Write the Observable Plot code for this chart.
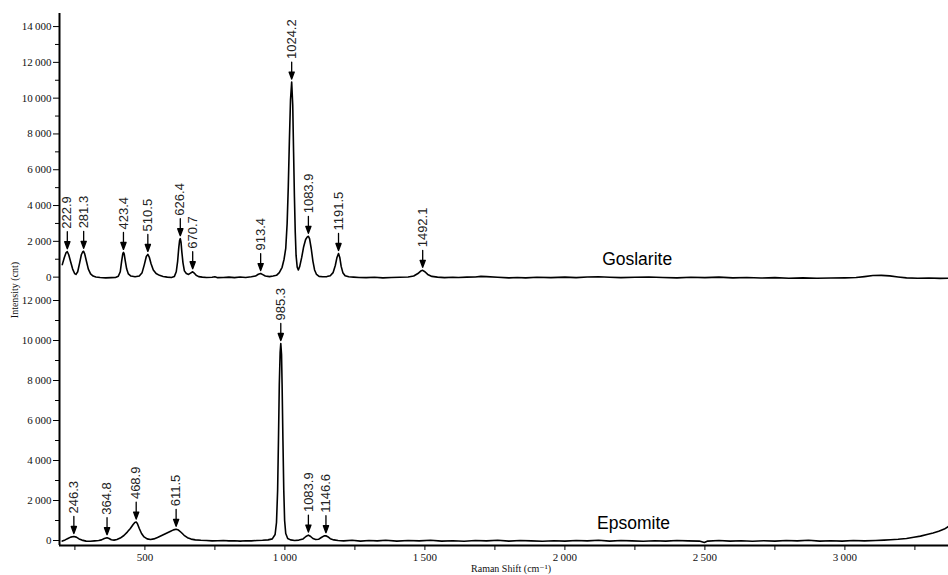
<!DOCTYPE html>
<html>
<head>
<meta charset="utf-8">
<script src="https://cdn.jsdelivr.net/npm/d3@7"></script>
<script src="https://cdn.jsdelivr.net/npm/@observablehq/plot@0.6"></script>
<style>
  body { margin: 0; background: #fff; }
  #chart { position: relative; width: 948px; height: 575px; overflow: hidden; }
  #chart svg { display: block; }
  #ylabel { position: absolute; left: 14px; top: 290px; transform: translate(-50%, -50%) rotate(-90deg);
            font: 10px "Liberation Serif", "DejaVu Serif", serif; white-space: nowrap; color: #111; }
</style>
</head>
<body>
<div id="chart"><div id="ylabel">Intensity (cnt)</div></div>
<script>
// ---------------- data ----------------
const xDomain = [195, 3370];
const xMajorTicks = [500, 1000, 1500, 2000, 2500, 3000];
const xMinorTicks = [250, 750, 1250, 1750, 2250, 2750, 3250];
const goslariteYTicks = [0, 2000, 4000, 6000, 8000, 10000, 12000, 14000];
const goslariteYMinor = [1000, 3000, 5000, 7000, 9000, 11000, 13000];
const epsomiteYTicks = [0, 2000, 4000, 6000, 8000, 10000, 12000];
const epsomiteYMinor = [1000, 3000, 5000, 7000, 9000, 11000];

// Goslarite spectrum [Raman shift, intensity]
const goslariteSpectrum = [
  [205,700],[212,1080],[218,1350],[223,1420],[228,1250],[235,850],[242,450],[249,200],[254,150],
  [260,300],[267,800],[273,1250],[278,1420],[281,1440],[285,1300],[291,900],[298,450],[306,180],
  [315,60],[325,10],[340,-20],[360,-40],[380,-30],[395,-20],[405,50],[412,300],[417,900],[421,1300],
  [423.4,1380],[426,1300],[430,900],[435,450],[441,180],[450,60],[465,20],[480,60],[490,250],[498,700],
  [505,1150],[510.5,1270],[516,1100],[522,750],[530,400],[540,200],[552,100],[565,40],[580,0],[595,-20],
  [605,30],[612,300],[617,900],[621,1650],[624,2050],[626.4,2150],[629,1950],[632,1400],[636,800],
  [641,350],[648,200],[656,150],[663,220],[670.7,300],[676,230],[683,100],[692,30],[705,0],[720,-20],
  [740,-10],[750,20],[760,-30],[780,-20],[800,0],[820,-30],[840,10],[860,-20],[880,20],[895,60],
  [905,160],[913.4,200],[921,140],[930,60],[945,30],[958,60],[970,100],[980,250],[990,550],[997,1000],
  [1003,1600],[1008,3000],[1012,5000],[1016,7600],[1020,9900],[1024.2,10900],[1028,9600],[1031,7000],
  [1034,4500],[1037,2500],[1040,1200],[1044,550],[1048,400],[1053,600],[1060,1100],[1067,1700],
  [1074,2100],[1080,2250],[1083.9,2280],[1088,2150],[1094,1600],[1100,900],[1106,400],[1113,150],
  [1122,40],[1135,20],[1150,30],[1162,80],[1172,250],[1180,650],[1186,1100],[1191.5,1320],[1196,1100],
  [1201,600],[1207,250],[1215,80],[1228,20],[1245,0],[1265,-20],[1290,-30],[1320,-10],[1350,-40],
  [1380,-20],[1410,-10],[1440,10],[1460,60],[1475,200],[1485,340],[1492,380],[1500,300],[1510,150],
  [1525,40],[1545,0],[1570,-30],[1600,-10],[1620,-20],[1650,0],[1680,10],[1700,40],[1720,30],
  [1760,-10],[1800,-40],[1830,-20],[1860,-40],[1900,-10],[1950,-30],[2000,0],[2040,-30],[2080,10],
  [2120,20],[2160,-10],[2200,-30],[2250,-10],[2300,10],[2350,-20],[2400,-40],[2450,-10],[2500,-30],
  [2550,0],[2600,-40],[2650,-20],[2700,-50],[2750,-30],[2800,-60],[2850,-40],[2900,-60],[2950,-50],
  [3000,-40],[3040,-20],[3070,30],[3100,90],[3130,100],[3160,70],[3190,10],[3220,-40],[3260,-60],
  [3300,-50],[3340,-70],[3370,-60]
];

// Epsomite spectrum [Raman shift, intensity]
const epsomiteSpectrum = [
  [205,-30],[215,30],[225,100],[235,170],[246.3,200],[255,170],[265,80],[275,20],[290,-30],[305,-40],
  [320,-20],[335,0],[345,30],[355,100],[364.8,140],[372,100],[380,40],[390,20],[400,50],[412,120],
  [425,250],[437,420],[448,600],[458,800],[464,900],[468.9,920],[473,850],[480,600],[488,350],[497,180],
  [508,80],[520,50],[532,80],[545,150],[560,250],[575,350],[590,450],[602,530],[611.5,560],[620,520],
  [630,400],[640,260],[652,140],[665,70],[680,30],[700,10],[720,0],[740,-20],[760,-10],[780,0],
  [800,-20],[820,-10],[840,-30],[860,-10],[880,-20],[900,0],[920,10],[940,30],[955,80],[965,300],
  [970,900],[974,2500],[977,5000],[980,7800],[983,9400],[985.3,9850],[988,9300],[990,7800],[993,5000],
  [996,2500],[999,1000],[1003,350],[1010,100],[1020,30],[1035,0],[1050,20],[1065,80],[1075,200],
  [1083.9,270],[1092,200],[1100,100],[1110,50],[1120,60],[1130,150],[1140,230],[1146.6,240],[1153,190],
  [1162,90],[1175,30],[1190,0],[1210,-20],[1240,10],[1270,-30],[1300,0],[1330,-20],[1360,10],
  [1400,-30],[1440,0],[1480,-20],[1520,10],[1560,-30],[1600,-10],[1640,-40],[1680,0],[1720,-20],
  [1760,10],[1800,-30],[1840,0],[1880,-20],[1920,-40],[1960,-10],[2000,-30],[2040,0],[2080,-20],
  [2120,10],[2160,-30],[2200,0],[2240,-20],[2280,-40],[2320,-10],[2360,-30],[2400,0],[2440,-20],
  [2480,-30],[2498,-100],[2510,-30],[2550,0],[2590,-30],[2630,-10],[2670,-40],[2710,-10],[2750,-30],
  [2790,0],[2830,-20],[2870,10],[2910,-30],[2950,-10],[2990,-30],[3030,0],[3070,-20],[3110,0],
  [3140,20],[3163,35],[3190,60],[3220,100],[3246,165],[3270,220],[3293,300],[3315,380],[3335,460],
  [3355,570],[3370,700]
];

// peak annotations
const goslaritePeakLabels = ["222.9","281.3","423.4","510.5","626.4","670.7","913.4","1024.2","1083.9","1191.5","1492.1"];
const goslaritePeakShift  = [222.9, 281.3, 423.4, 510.5, 626.4, 670.7, 913.4, 1024.2, 1083.9, 1191.5, 1492.1];
const goslaritePeakHeight = [1420, 1440, 1380, 1270, 2150, 300, 200, 10900, 2280, 1320, 380];

const epsomitePeakLabels = ["246.3","364.8","468.9","611.5","985.3","1083.9","1146.6"];
const epsomitePeakShift  = [246.3, 364.8, 468.9, 611.5, 985.3, 1083.9, 1146.6];
const epsomitePeakHeight = [200, 140, 920, 560, 9850, 270, 240];

// series names
const goslariteName = [{name: "Goslarite", shift: 2133, intensity: 655}];
const epsomiteName  = [{name: "Epsomite",  shift: 2115, intensity: 585}];

const xTitle = ["Raman Shift (cm\u207B\u00B9)"];

// ---------------- helpers ----------------
const serif = "Liberation Serif, DejaVu Serif, serif";
const sans = "Liberation Sans, Arial, sans-serif";
const locale = d3.formatLocale({decimal: ".", thousands: "\u2009", grouping: [3], currency: ["", ""]});
const fmt = locale.format(",");

function peaks(labels, shifts, heights) {
  return labels.map((l, i) => ({label: l, shift: shifts[i], height: heights[i]}));
}

const arrowShape = {
  draw(context, l) {
    context.moveTo(0, 0);
    context.lineTo(0, -l + 5);
    context.moveTo(0, -l);
    context.lineTo(-2.6, -l + 7);
    context.lineTo(2.6, -l + 7);
    context.closePath();
  }
};

function peakMarks(pk) {
  return [
    Plot.vector(pk, {x: "shift", y: "height", rotate: 180, length: 17, anchor: "end", shape: arrowShape,
      stroke: "black", fill: "black", strokeWidth: 1.3, dy: -3}),
    Plot.text(pk, {x: "shift", y: "height", text: "label", rotate: -90, textAnchor: "start", lineAnchor: "middle",
      dy: -23, fontSize: 13, fontFamily: sans, fill: "#222"})
  ];
}

const gosPeaks = peaks(goslaritePeakLabels, goslaritePeakShift, goslaritePeakHeight);
const epsPeaks = peaks(epsomitePeakLabels, epsomitePeakShift, epsomitePeakHeight);

const gosYDomain = [-300, 14730];
const epsYDomain = [-250, 12900];

const topPlot = Plot.plot({
  width: 948, height: 282,
  marginLeft: 59, marginRight: 0, marginTop: 13, marginBottom: 0,
  style: {background: "white", overflow: "visible"},
  x: {domain: xDomain, axis: null},
  y: {domain: gosYDomain, axis: null},
  marks: [
    Plot.axisY(goslariteYTicks, {anchor: "left", tickSize: 6, tickPadding: 2, tickFormat: fmt, label: null,
      fontSize: 11, fontFamily: serif, fill: "#111"}),
    Plot.axisY(goslariteYMinor, {anchor: "left", tickSize: 4, tickFormat: () => "", label: null}),
    Plot.line(goslariteSpectrum, {x: d => d[0], y: d => d[1], stroke: "black", strokeWidth: 1.6}),
    ...peakMarks(gosPeaks),
    Plot.text(goslariteName, {x: "shift", y: "intensity", text: "name", textAnchor: "start", lineAnchor: "bottom",
      fontSize: 17.5, fontFamily: sans, fill: "black"}),
    Plot.ruleX([xDomain[0]], {stroke: "black", strokeWidth: 2})
  ]
});

const bottomPlot = Plot.plot({
  width: 948, height: 293,
  marginLeft: 59, marginRight: 0, marginTop: 0, marginBottom: 30,
  style: {background: "white", overflow: "visible"},
  x: {domain: xDomain},
  y: {domain: epsYDomain, axis: null},
  marks: [
    Plot.axisY(epsomiteYTicks, {anchor: "left", tickSize: 6, tickPadding: 2, tickFormat: fmt, label: null,
      fontSize: 11, fontFamily: serif, fill: "#111"}),
    Plot.axisY(epsomiteYMinor, {anchor: "left", tickSize: 4, tickFormat: () => "", label: null}),
    Plot.axisX(xMajorTicks, {anchor: "bottom", tickSize: 5, tickPadding: 3, tickFormat: fmt, label: null,
      fontSize: 11, fontFamily: serif, fill: "#111"}),
    Plot.axisX(xMinorTicks, {anchor: "bottom", tickSize: 5, tickFormat: () => "", label: null}),
    Plot.line(epsomiteSpectrum, {x: d => d[0], y: d => d[1], stroke: "black", strokeWidth: 1.6}),
    ...peakMarks(epsPeaks),
    Plot.text(epsomiteName, {x: "shift", y: "intensity", text: "name", textAnchor: "start", lineAnchor: "bottom",
      fontSize: 17.5, fontFamily: sans, fill: "black"}),
    Plot.text(xTitle, {frameAnchor: "bottom", dy: 26, dx: 7, fontSize: 10, fontFamily: serif, fill: "#111"}),
    Plot.ruleX([xDomain[0]], {stroke: "black", strokeWidth: 2}),
    Plot.ruleY([epsYDomain[0]], {stroke: "black", strokeWidth: 2})
  ]
});

const chart = document.getElementById("chart");
chart.insertBefore(bottomPlot, chart.firstChild);
chart.insertBefore(topPlot, chart.firstChild);
</script>
</body>
</html>
